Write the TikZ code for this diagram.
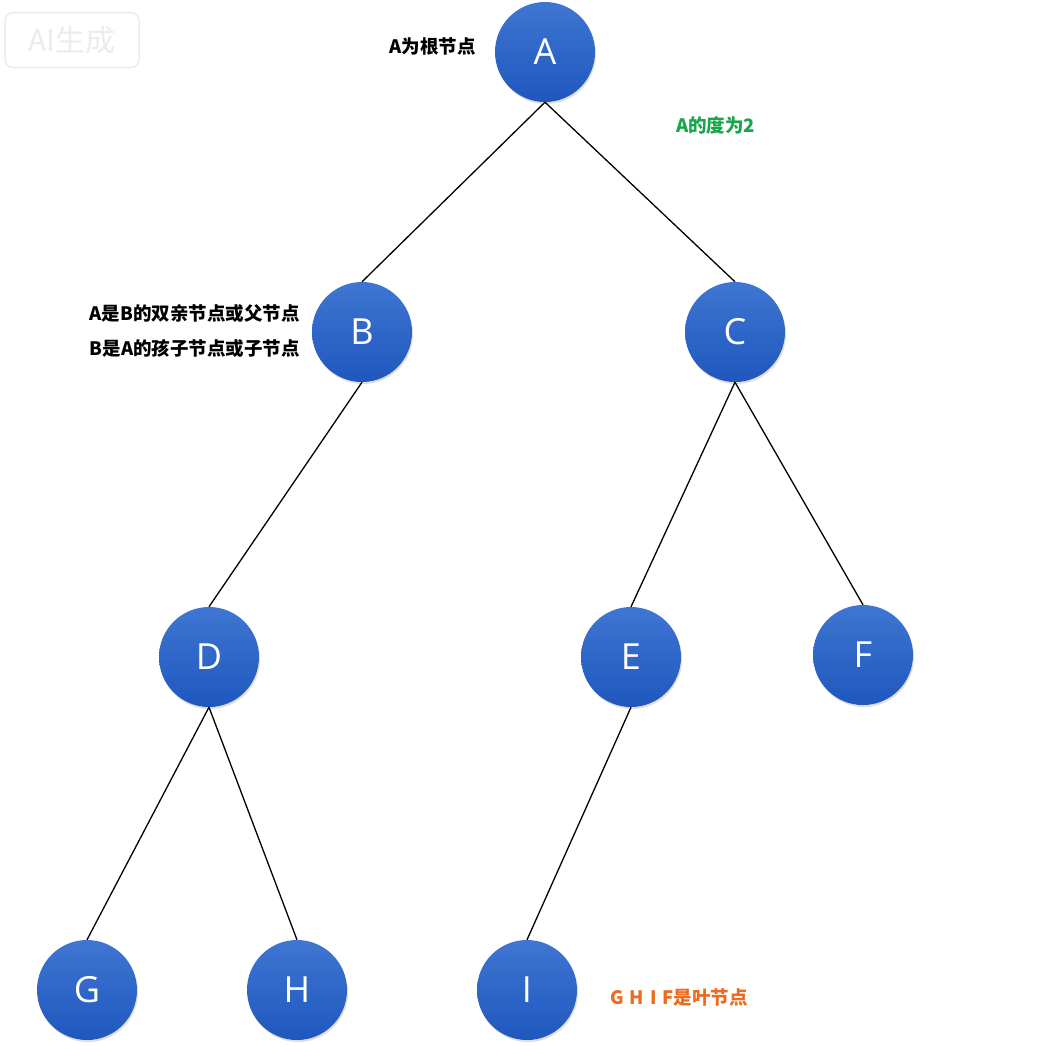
\documentclass[tikz,border=0pt]{standalone}
\usepackage{fontspec}
\setsansfont{Open Sans}
\newfontfamily\cjk{Noto Sans CJK SC}
\usetikzlibrary{shadows}
\definecolor{ballTop}{HTML}{3F76D2}
\definecolor{ballBot}{HTML}{1F57BE}
\definecolor{greenTxt}{HTML}{17A64A}
\definecolor{orangeTxt}{HTML}{EE6A1C}
\definecolor{wmGray}{HTML}{ECECEC}
\tikzset{
  treenode/.style={circle, minimum size=100pt, inner sep=0pt,
    top color=ballTop, bottom color=ballBot, draw=none,
    text=white, font=\sffamily\fontsize{36}{40}\selectfont,
    drop shadow={shadow xshift=1pt, shadow yshift=-2pt, opacity=0.25}},
  edge/.style={draw=black, line width=1.3pt},
  note/.style={font=\cjk\bfseries\fontsize{18.5}{22}\selectfont, inner sep=0pt}
}
\begin{document}
\begin{tikzpicture}[x=1pt,y=-1pt]
\useasboundingbox[fill=white] (0,0) rectangle (1046,1045);
% watermark
\node[draw=wmGray, line width=1.5pt, rounded corners=8pt, minimum width=134pt, minimum height=55pt,
  text=wmGray, font=\cjk\fontsize{30}{32}\selectfont] (wm) at (72,40) {AI生成};
% nodes
\node[treenode] (A) at (545,52) {A};
\node[treenode] (B) at (362,332) {B};
\node[treenode] (C) at (735,332) {C};
\node[treenode] (D) at (209,657) {D};
\node[treenode] (E) at (631,657) {E};
\node[treenode] (F) at (863,655) {F};
\node[treenode] (G) at (87,990) {G};
\node[treenode] (H) at (297,990) {H};
\node[treenode] (I) at (527,990) {I};
% edges
\draw[edge] (A.south) -- (B.north);
\draw[edge] (A.south) -- (C.north);
\draw[edge] (B.south) -- (D.north);
\draw[edge] (C.south) -- (E.north);
\draw[edge] (C.south) -- (F.north);
\draw[edge] (D.south) -- (G.north);
\draw[edge] (D.south) -- (H.north);
\draw[edge] (E.south) -- (I.north);
% notes
\node[note, anchor=east] (n1) at (476,47) {A为根节点};
\node[note, anchor=west, text=greenTxt] (n2) at (676,125) {A的度为2};
\node[note, anchor=east] (n3) at (300,314) {A是B的双亲节点或父节点};
\node[note, anchor=east] (n4) at (300,348) {B是A的孩子节点或子节点};
\node[note, anchor=west, text=orangeTxt] (n5) at (610,997) {G\hspace{6pt}H\hspace{6pt}I\hspace{6pt}F是叶节点};
\end{tikzpicture}
\end{document}
